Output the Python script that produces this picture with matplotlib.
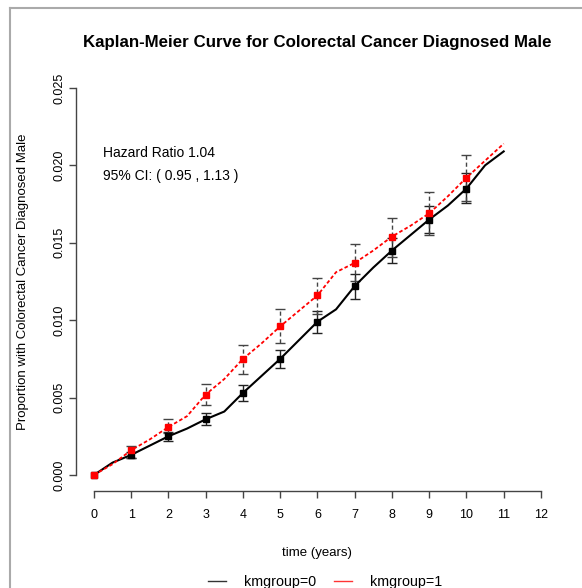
import numpy as np
import matplotlib
matplotlib.use("Agg")
import matplotlib.pyplot as plt
from matplotlib.lines import Line2D

plt.rcParams['font.family'] = ['Liberation Sans', 'DejaVu Sans']

# Tiempo en años para las curvas (cada medio año)
tiempo = [0, 0.5, 1, 1.5, 2, 2.5, 3, 3.5, 4, 4.5, 5, 5.5, 6, 6.5, 7, 7.5,
          8, 8.5, 9, 9.5, 10, 10.5, 11]

# Proporción acumulada, grupo 0 y grupo 1
curva_grupo0 = [0, 0.0008, 0.0013, 0.0019, 0.0025, 0.0030, 0.0036, 0.0041,
                0.0053, 0.0064, 0.0075, 0.0087, 0.0099, 0.0107, 0.0122,
                0.0134, 0.0145, 0.0155, 0.0165, 0.0174, 0.0185, 0.0200, 0.0209]
curva_grupo1 = [0, 0.0007, 0.0016, 0.0023, 0.0031, 0.0038, 0.0052, 0.0062,
                0.0075, 0.0085, 0.0096, 0.0106, 0.0116, 0.0131, 0.0137,
                0.0145, 0.0154, 0.0161, 0.0169, 0.0180, 0.0192, 0.0203, 0.0214]

# Intervalos de confianza en los años enteros
anos_ic = [1, 2, 3, 4, 5, 6, 7, 8, 9, 10]
ic_bajo_grupo0 = [0.0011, 0.0022, 0.0032, 0.0048, 0.0069, 0.0092, 0.0114,
                  0.0137, 0.0156, 0.0176]
ic_alto_grupo0 = [0.0015, 0.0028, 0.0040, 0.0058, 0.0081, 0.0106, 0.0130,
                  0.0153, 0.0174, 0.0195]
ic_bajo_grupo1 = [0.0011, 0.0027, 0.0045, 0.0065, 0.0085, 0.0104, 0.0125,
                  0.0141, 0.0155, 0.0177]
ic_alto_grupo1 = [0.0019, 0.0036, 0.0059, 0.0084, 0.0107, 0.0127, 0.0149,
                  0.0166, 0.0183, 0.0207]

ticks_x = list(range(0, 13))
ticks_y = [0.000, 0.005, 0.010, 0.015, 0.020, 0.025]
etiquetas_y = ["0.000", "0.005", "0.010", "0.015", "0.020", "0.025"]

fig = plt.figure(figsize=(5.82, 5.88), dpi=100)
ax = fig.add_axes([0.1306, 0.1658, 0.8296, 0.711])

# Marcadores solo en los años enteros 0..10
marcas = list(range(0, 21, 2))

ax.plot(tiempo, curva_grupo0, color='black', lw=1.5, marker='s', ms=4.5,
        markevery=marcas, zorder=3)
ax.plot(tiempo, curva_grupo1, color='red', lw=1.3, ls=(0, (2, 1.3)),
        marker='s', ms=4.5, markevery=marcas, zorder=4)


def dibujar_ic(anos, centro, bajo, alto, estilo, color):
    centro = np.array(centro)
    err = [centro - np.array(bajo), np.array(alto) - centro]
    _, caps, barras = ax.errorbar(anos, centro, yerr=err, fmt='none',
                                  ecolor=color, elinewidth=1.0,
                                  capsize=3.5, capthick=1.0, zorder=2)
    for b in barras:
        b.set_linestyle(estilo)


dibujar_ic(anos_ic, curva_grupo0[2:21:2], ic_bajo_grupo0, ic_alto_grupo0,
           '-', '#222222')
dibujar_ic(anos_ic, curva_grupo1[2:21:2], ic_bajo_grupo1, ic_alto_grupo1,
           (0, (3, 2)), '#444444')

# Ejes al estilo R: sin caja, lineas solo entre el primer y ultimo tick
ax.set_xlim(-0.48, 12.48)
ax.set_ylim(-0.001, 0.026)
for lado in ['top', 'right']:
    ax.spines[lado].set_visible(False)
ax.spines['left'].set_bounds(0, 0.025)
ax.spines['bottom'].set_bounds(0, 12)
for lado in ['left', 'bottom']:
    ax.spines[lado].set_color('#444444')
    ax.spines[lado].set_linewidth(1.0)

ax.set_xticks(ticks_x)
ax.set_yticks(ticks_y)
ax.set_yticklabels(etiquetas_y, rotation=90, va='center')
ax.tick_params(axis='both', direction='out', length=5, width=1.0,
               color='#444444', labelsize=9)
ax.tick_params(axis='x', pad=8)
ax.tick_params(axis='y', pad=2.5)

ax.set_xlabel("time (years)", fontsize=9.5, labelpad=19)
ax.set_ylabel("Proportion with Colorectal Cancer Diagnosed Male",
              fontsize=9.5, labelpad=17.8)
ax.set_title("Kaplan-Meier Curve for Colorectal Cancer Diagnosed Male",
             fontsize=12.2, fontweight='bold', pad=18)

ax.text(0.24, 0.0208, "Hazard Ratio 1.04", fontsize=10, va='center')
ax.text(0.24, 0.0193, "95% CI: ( 0.95 , 1.13 )", fontsize=10, va='center')

# Leyenda abajo
handles = [Line2D([], [], color='#333333', lw=1),
           Line2D([], [], color='#ff3333', lw=1)]
fig.legend(handles, ["kmgroup=0", "kmgroup=1"], ncol=2, frameon=False,
           loc='center', bbox_to_anchor=(0.559, 0.0105), fontsize=10.3,
           handlelength=1.26, handletextpad=1.26, columnspacing=1.26)

# Marco gris alrededor
fig.add_artist(Line2D([10 / 582, 10 / 582], [0, 580 / 588], color='#aaaaaa',
                      lw=1.5, transform=fig.transFigure))
fig.add_artist(Line2D([10 / 582, 1], [580 / 588, 580 / 588], color='#aaaaaa',
                      lw=1.5, transform=fig.transFigure))

fig.savefig("out.png", dpi=100)
